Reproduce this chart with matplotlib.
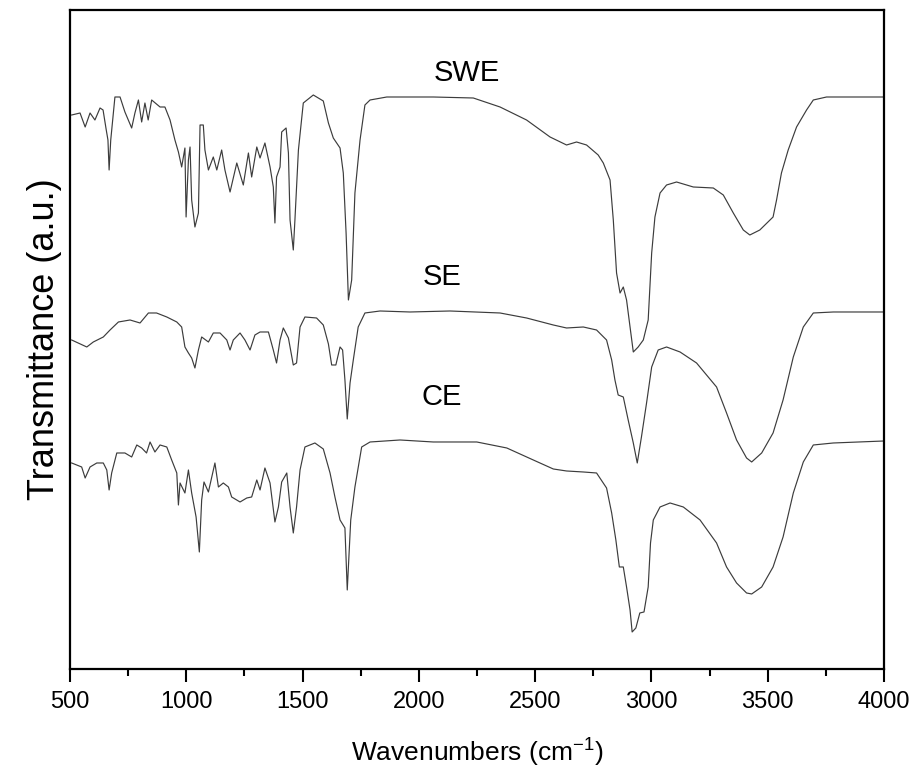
import matplotlib
matplotlib.use("Agg")
import matplotlib.pyplot as plt
from matplotlib.ticker import MultipleLocator

plt.rcParams["font.family"] = ["Liberation Sans", "DejaVu Sans"]

# wavenumber / transmittance (a.u.)
swe_wn = [507, 543, 565, 586, 607, 629, 642, 655, 663, 668, 675, 693, 715, 736, 765, 779,
          794, 808, 822, 836, 851, 887, 908, 930, 951, 966, 980, 994, 999, 1009, 1016, 1023,
          1037, 1052, 1059, 1073, 1080, 1095, 1116, 1131, 1152, 1166, 1188, 1217, 1245, 1267,
          1281, 1303, 1317, 1338, 1360, 1374, 1381, 1388, 1403, 1410, 1429, 1439, 1446, 1460,
          1467, 1482, 1503, 1546, 1589, 1611, 1632, 1661, 1675, 1687, 1697, 1711, 1725, 1747,
          1768, 1790, 1862, 2062, 2234, 2349, 2463, 2564, 2635, 2678, 2721, 2771, 2793, 2822,
          2836, 2850, 2865, 2879, 2893, 2908, 2922, 2943, 2965, 2986, 3001, 3015, 3037, 3065,
          3108, 3180, 3266, 3309, 3352, 3395, 3423, 3466, 3523, 3538, 3559, 3588, 3624, 3667,
          3696, 3753, 4000]
swe_t = [554, 556, 542, 556, 549, 561, 559, 540, 529, 499, 529, 572, 572, 557, 541, 556,
         569, 547, 566, 549, 569, 562, 562, 549, 529, 517, 502, 521, 452, 509, 522, 469,
         442, 456, 544, 544, 519, 499, 512, 499, 519, 499, 477, 506, 484, 516,
         492, 522, 511, 526, 502, 482, 446, 492, 502, 537, 541, 516, 449, 419,
         449, 519, 566, 574, 568, 546, 531, 521, 496, 436, 369, 389, 476, 529,
         564, 569, 572, 572, 571, 562, 549, 532, 524, 527, 524, 514, 506, 489,
         449, 396, 376, 382, 369, 342, 317, 322, 329, 349, 416, 452, 476, 484,
         487, 482, 481, 474, 456, 439, 434, 439, 452, 469, 496, 519, 542, 559,
         569, 572, 572]

se_wn = [507, 572, 600, 643, 672, 708, 758, 801, 837, 872, 916, 959, 980, 994, 1009, 1023,
         1037, 1052, 1066, 1095, 1116, 1145, 1174, 1188, 1202, 1231, 1252, 1274, 1295, 1317,
         1353, 1374, 1388, 1403, 1417, 1439, 1460, 1474, 1489, 1510, 1560, 1589, 1611, 1625,
         1643, 1661, 1672, 1682, 1692, 1704, 1718, 1739, 1768, 1833, 1962, 2134, 2349, 2463,
         2578, 2635, 2707, 2764, 2807, 2829, 2843, 2857, 2879, 2900, 2922, 2939, 2957, 2979,
         3001, 3029, 3065, 3123, 3194, 3280, 3323, 3366, 3409, 3431, 3474, 3523, 3566, 3610,
         3653, 3696, 3782, 3868, 4000]
se_t = [329, 322, 327, 332, 339, 347, 349, 346, 356, 356, 352, 347, 342, 322, 316, 311,
        301, 319, 332, 327, 336, 336, 329, 319, 329, 336, 329, 319, 334, 337,
        337, 319, 306, 329, 341, 331, 304, 306, 342, 352, 351, 344, 325, 304,
        304, 322, 319, 289, 250, 286, 309, 342, 356, 358, 357, 358, 356, 351,
        344, 341, 342, 339, 329, 309, 289, 274, 272, 249, 226, 206, 232, 266,
        302, 319, 322, 317, 306, 282, 256, 229, 211, 207, 216, 236, 269, 312,
        342, 356, 357, 357, 357]

ce_wn = [507, 550, 565, 586, 615, 643, 658, 668, 679, 701, 736, 765, 787, 808, 829, 844,
         865, 887, 916, 937, 959, 966, 973, 994, 1009, 1023, 1042, 1056, 1066, 1076, 1095,
         1123, 1138, 1159, 1181, 1195, 1231, 1260, 1281, 1303, 1317, 1338, 1360, 1381, 1396,
         1410, 1432, 1446, 1460, 1474, 1489, 1510, 1553, 1589, 1618, 1639, 1661, 1682, 1692,
         1707, 1725, 1754, 1790, 1919, 2062, 2249, 2378, 2492, 2578, 2635, 2707, 2764, 2807,
         2829, 2847, 2862, 2879, 2893, 2908, 2917, 2933, 2950, 2968, 2986, 2996, 3008, 3037,
         3080, 3137, 3209, 3280, 3323, 3366, 3409, 3431, 3474, 3523, 3566, 3610, 3653, 3696,
         3782, 4000]
ce_t = [206, 202, 191, 202, 206, 206, 199, 179, 196, 216, 216, 212, 224, 221, 216, 227,
        217, 224, 222, 209, 196, 164, 186, 176, 199, 176, 152, 117, 169, 187, 177,
        206, 182, 186, 182, 172, 167, 171, 172, 189, 179, 201, 186, 147, 162,
        187, 196, 162, 136, 162, 199, 222, 226, 220, 196, 172, 149, 141, 79,
        149, 182, 222, 227, 229, 227, 227, 221, 209, 200, 198, 197, 196, 181,
        156, 129, 102, 102, 82, 59, 37, 41, 56, 57, 82, 126, 149, 162,
        166, 162, 149, 126, 102, 86, 76, 75, 82, 102, 132, 176, 207, 224,
        226, 228]

names = ["SWE", "SE", "CE"]
name_pos = [(2205, 596), (2098, 392), (2098, 272)]

fig = plt.figure(figsize=(9.12, 7.75), dpi=100)
ax = fig.add_axes([0.0768, 0.1368, 0.8925, 0.8503])

for wn, t in [(swe_wn, swe_t), (se_wn, se_t), (ce_wn, ce_t)]:
    ax.plot(wn, t, color="#3c3c3c", lw=0.85)

for name, (x, y) in zip(names, name_pos):
    ax.text(x, y, name, fontsize=21, ha="center", va="center")

ax.set_xlim(500, 4000)
ax.set_ylim(0, 659)

ax.xaxis.set_major_locator(MultipleLocator(500))
ax.xaxis.set_minor_locator(MultipleLocator(250))
ax.tick_params(axis="x", which="major", direction="out", length=9.5, width=1.5,
               labelsize=17, pad=6)
ax.tick_params(axis="x", which="minor", direction="out", length=5, width=1.5)
ax.set_yticks([])

for spine in ax.spines.values():
    spine.set_linewidth(1.6)

ax.set_xlabel(r"Wavenumbers (cm$^{\mathregular{-1}}$)", fontsize=19, labelpad=16)
ax.set_ylabel("Transmittance (a.u.)", fontsize=26, labelpad=6)

fig.savefig("out.png", dpi=100)
